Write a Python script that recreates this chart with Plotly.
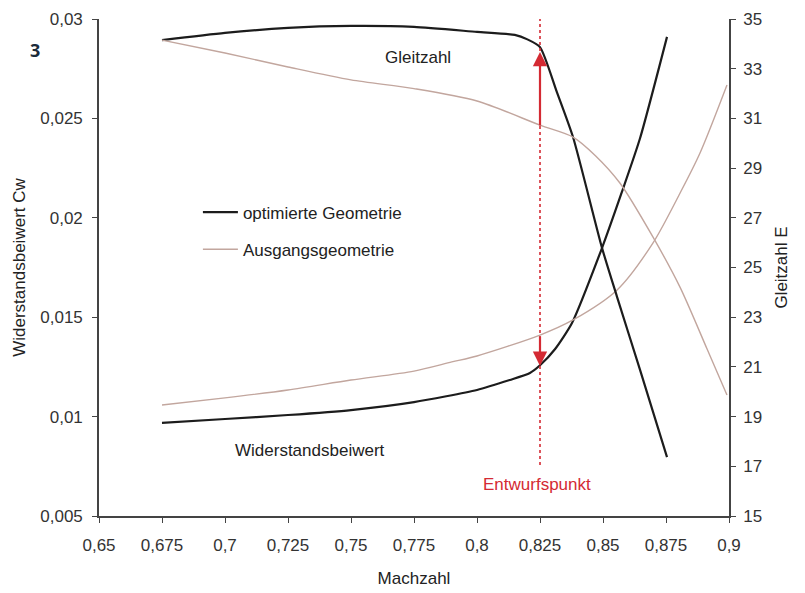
import plotly.graph_objects as go

# Mach numbers and values
mach_cw_opt = [0.675, 0.7, 0.725, 0.75, 0.775, 0.8, 0.813, 0.821, 0.825, 0.831, 0.8377, 0.8496, 0.8575, 0.8647, 0.8754]
cw_opt = [0.00968, 0.00988, 0.01008, 0.01033, 0.01073, 0.01134, 0.01184, 0.01219, 0.01258, 0.0134, 0.01471, 0.01848, 0.0213, 0.0240, 0.0291]

mach_cw_orig = [0.675, 0.7, 0.725, 0.75, 0.775, 0.79, 0.8, 0.825, 0.8381, 0.8556, 0.8698, 0.8806, 0.8885, 0.8992]
cw_orig = [0.01058, 0.01094, 0.01134, 0.01184, 0.01229, 0.01275, 0.01305, 0.0141, 0.01486, 0.01637, 0.01873, 0.02125, 0.02326, 0.02668]

mach_e_opt = [0.675, 0.7, 0.725, 0.75, 0.775, 0.8, 0.815, 0.82, 0.825, 0.8317, 0.8381, 0.8496, 0.8556, 0.8647, 0.8754]
e_opt = [34.15, 34.44, 34.64, 34.72, 34.68, 34.48, 34.36, 34.18, 33.87, 32.06, 30.25, 25.79, 23.81, 20.88, 17.37]

mach_e_orig = [0.675, 0.7, 0.725, 0.75, 0.775, 0.8, 0.825, 0.8381, 0.847, 0.8567, 0.8698, 0.8806, 0.8913, 0.8992]
e_orig = [34.15, 33.63, 33.07, 32.55, 32.2, 31.7, 30.73, 30.25, 29.5, 28.4, 26.23, 24.2, 21.72, 19.87]

x_ticks = [0.65, 0.675, 0.7, 0.725, 0.75, 0.775, 0.8, 0.825, 0.85, 0.875, 0.9]
x_labels = ["0,65", "0,675", "0,7", "0,725", "0,75", "0,775", "0,8", "0,825", "0,85", "0,875", "0,9"]
y_ticks = [0.005, 0.01, 0.015, 0.02, 0.025, 0.03]
y_labels = ["0,005", "0,01", "0,015", "0,02", "0,025", "0,03"]
y2_ticks = [15, 17, 19, 21, 23, 25, 27, 29, 31, 33, 35]

design_mach = 0.825

BLACK = "#1c1c1c"
BROWN = "#c2a69e"
RED = "#d42a33"
FONT = "Liberation Sans, Arial, sans-serif"
FS = 17

fig = go.Figure()
fig.add_trace(go.Scatter(x=mach_cw_opt, y=cw_opt, mode="lines", name="optimierte Geometrie",
                         line=dict(color=BLACK, width=2.2, shape="spline", smoothing=0.6),
                         legendgroup="a", showlegend=True))
fig.add_trace(go.Scatter(x=mach_cw_orig, y=cw_orig, mode="lines", name="Ausgangsgeometrie",
                         line=dict(color=BROWN, width=1.4, shape="spline", smoothing=0.8),
                         legendgroup="b", showlegend=True))
fig.add_trace(go.Scatter(x=mach_e_opt, y=e_opt, mode="lines", name="optimierte Geometrie",
                         line=dict(color=BLACK, width=2.2, shape="spline", smoothing=0.6),
                         legendgroup="a", showlegend=False, yaxis="y2"))
fig.add_trace(go.Scatter(x=mach_e_orig, y=e_orig, mode="lines", name="Ausgangsgeometrie",
                         line=dict(color=BROWN, width=1.4, shape="spline", smoothing=0.8),
                         legendgroup="b", showlegend=False, yaxis="y2"))

# design point line
fig.add_shape(type="line", xref="x", yref="y", x0=design_mach, x1=design_mach, y0=0.00757, y1=0.03,
              line=dict(color=RED, width=1.6, dash="dot"))

# arrows
fig.add_annotation(x=design_mach, y=0.02834, ax=design_mach, ay=0.02457, xref="x", yref="y",
                   axref="x", ayref="y", showarrow=True, arrowhead=2, arrowsize=1.3, arrowwidth=2.2,
                   arrowcolor=RED, text="")
fig.add_annotation(x=design_mach, y=0.01255, ax=design_mach, ay=0.0141, xref="x", yref="y",
                   axref="x", ayref="y", showarrow=True, arrowhead=2, arrowsize=1.3, arrowwidth=2.2,
                   arrowcolor=RED, text="")

fig.add_annotation(x=0.7766, y=0.02804, xref="x", yref="y", text="Gleitzahl", showarrow=False,
                   font=dict(family=FONT, size=FS, color="#222"))
fig.add_annotation(x=0.7337, y=0.00832, xref="x", yref="y", text="Widerstandsbeiwert", showarrow=False,
                   font=dict(family=FONT, size=FS, color="#222"))
fig.add_annotation(x=0.8238, y=0.00656, xref="x", yref="y", text="Entwurfspunkt", showarrow=False,
                   font=dict(family=FONT, size=FS, color=RED))
fig.add_annotation(x=(35 - 99) / 630, y=(516 - 50) / 497, xref="paper", yref="paper", text="<b>3</b>",
                   showarrow=False, xanchor="center", yanchor="middle",
                   font=dict(family="Open Sans, sans-serif", size=18, color="#1b2b3b"))

axis_common = dict(showline=True, linecolor="#444", linewidth=1.6, ticks="outside", ticklen=5,
                   tickcolor="#444", tickwidth=1.4, showgrid=False, zeroline=False, automargin=False,
                   tickfont=dict(family=FONT, size=FS, color="#333"))

fig.update_layout(
    width=805, height=593,
    margin=dict(l=91, r=84, t=11, b=85),
    paper_bgcolor="white", plot_bgcolor="white",
    showlegend=True,
    legend=dict(x=0.157, y=0.6467, xanchor="left", yanchor="top", bgcolor="rgba(0,0,0,0)",
                font=dict(family=FONT, size=FS, color="#222"), tracegroupgap=12,
                itemwidth=35),
    xaxis=dict(range=[0.65, 0.9], tickvals=x_ticks, ticktext=x_labels, ticklabelstandoff=8,
               title=dict(text="Machzahl", font=dict(family=FONT, size=FS, color="#222"), standoff=18),
               **axis_common),
    yaxis=dict(range=[0.005, 0.03], tickvals=y_ticks, ticktext=y_labels, ticklabelstandoff=6,
               title=dict(text="Widerstandsbeiwert Cw", font=dict(family=FONT, size=FS, color="#222"), standoff=10),
               **axis_common),
    yaxis2=dict(range=[15, 35], tickvals=y2_ticks, overlaying="y", side="right", ticklabelstandoff=4,
                title=dict(text="Gleitzahl E", font=dict(family=FONT, size=FS, color="#222"), standoff=14),
                **axis_common),
)

fig.write_html("out.html")
